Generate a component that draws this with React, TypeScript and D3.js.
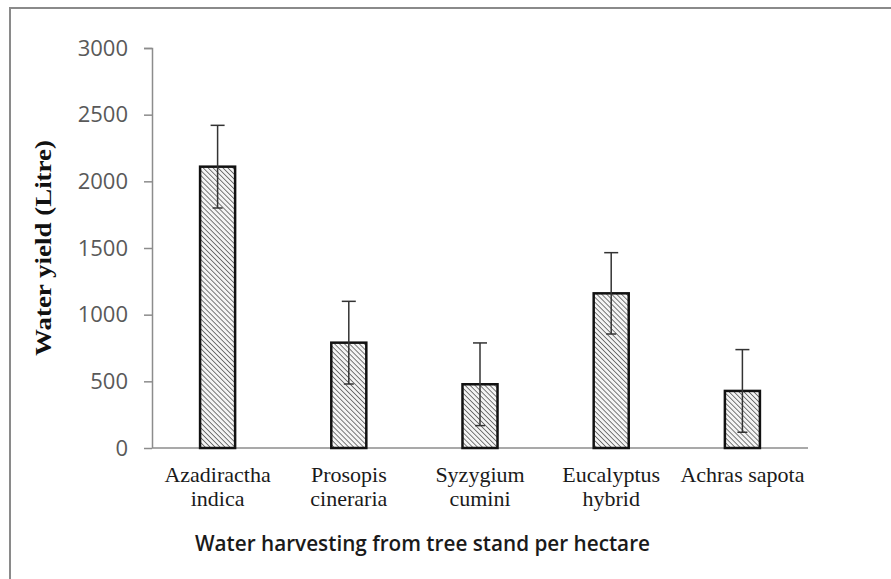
import * as d3 from 'd3';
import { useEffect, useRef } from 'react';

const species = ['Azadiractha indica', 'Prosopis cineraria', 'Syzygium cumini', 'Eucalyptus hybrid', 'Achras sapota'];
const speciesLines = [['Azadiractha', 'indica'], ['Prosopis', 'cineraria'], ['Syzygium', 'cumini'], ['Eucalyptus', 'hybrid'], ['Achras sapota']];
const waterYield = [2110, 790, 478, 1160, 428];
const errorRange = [310, 310, 310, 305, 310];
const yTicks = [0, 500, 1000, 1500, 2000, 2500, 3000];

const BarChart = () => {
    const svgRef = useRef<SVGSVGElement>(null);

    useEffect(() => {
        const width = 891;
        const height = 579;

        const svg = d3.select(svgRef.current);
        svg.selectAll('*').remove();
        svg.attr('width', width).attr('height', height);

        svg.append('rect').attr('width', width).attr('height', height).attr('fill', '#fff');

        // outer frame (clipped at right/bottom)
        svg.append('rect')
            .attr('x', 10)
            .attr('y', 8)
            .attr('width', 900)
            .attr('height', 600)
            .attr('fill', 'none')
            .attr('stroke', '#8a8a8a')
            .attr('stroke-width', 2);

        // hatch pattern
        const defs = svg.append('defs');
        const pattern = defs
            .append('pattern')
            .attr('id', 'hatch')
            .attr('patternUnits', 'userSpaceOnUse')
            .attr('width', 3.5)
            .attr('height', 3.5)
            .attr('patternTransform', 'rotate(-45)');
        pattern.append('rect').attr('width', 3.5).attr('height', 3.5).attr('fill', '#f4f4f4');
        pattern.append('line').attr('x1', 0).attr('y1', 0).attr('x2', 0).attr('y2', 3.5).attr('stroke', '#5a5a5a').attr('stroke-width', 1.6);

        const xScale = d3.scaleBand().domain(species).range([152, 808]).paddingInner(0.733).paddingOuter(0.3665);
        const yScale = d3.scaleLinear().domain([0, 3000]).range([448, 48]);

        // y axis
        const yAxis = svg
            .append('g')
            .attr('transform', 'translate(152, 0)')
            .call(d3.axisLeft(yScale).tickValues(yTicks).tickSize(8).tickPadding(16).tickFormat(d3.format('d')));
        yAxis.selectAll('path, line').attr('stroke', '#8c8c8c').attr('stroke-width', 1.5);
        yAxis.select('.domain').attr('d', 'M-8,48.5H0.5V448');
        yAxis.selectAll('text')
            .attr('fill', '#595959')
            .style('font-family', 'Open Sans, sans-serif')
            .style('font-size', '22px');

        // x axis line
        svg.append('line')
            .attr('x1', 152)
            .attr('x2', 808)
            .attr('y1', yScale(0))
            .attr('y2', yScale(0))
            .attr('stroke', '#8c8c8c')
            .attr('stroke-width', 1.5);

        // bars
        svg.append('g')
            .selectAll('rect')
            .data(species)
            .enter()
            .append('rect')
            .attr('x', (d) => xScale(d) as number)
            .attr('y', (d, i) => yScale(waterYield[i]))
            .attr('width', xScale.bandwidth())
            .attr('height', (d, i) => yScale(0) - yScale(waterYield[i]))
            .attr('fill', 'url(#hatch)')
            .attr('stroke', '#111')
            .attr('stroke-width', 2.5);

        // error bars
        const err = svg.append('g').attr('stroke', '#333').attr('stroke-width', 1.5);
        species.forEach((s, i) => {
            const cx = (xScale(s) as number) + xScale.bandwidth() / 2;
            const top = yScale(waterYield[i] + errorRange[i]);
            const bottom = yScale(waterYield[i] - errorRange[i]);
            err.append('line').attr('x1', cx).attr('x2', cx).attr('y1', top).attr('y2', bottom);
            err.append('line').attr('x1', cx - 7).attr('x2', cx + 7).attr('y1', top).attr('y2', top);
            err.append('line').attr('x1', cx - 5).attr('x2', cx + 5).attr('y1', bottom).attr('y2', bottom);
        });

        // x tick labels
        const xLabels = svg.append('g');
        speciesLines.forEach((lines, i) => {
            const cx = (xScale(species[i]) as number) + xScale.bandwidth() / 2;
            lines.forEach((line, j) => {
                xLabels
                    .append('text')
                    .attr('x', cx)
                    .attr('y', 482 + j * 24)
                    .attr('text-anchor', 'middle')
                    .attr('fill', '#1a1a1a')
                    .style('font-family', 'Liberation Serif, Times New Roman, serif')
                    .style('font-size', '22px')
                    .text(line);
            });
        });

        // y axis title
        svg.append('text')
            .attr('transform', 'translate(51, 248) rotate(-90)')
            .attr('text-anchor', 'middle')
            .attr('textLength', 216)
            .attr('lengthAdjust', 'spacingAndGlyphs')
            .attr('fill', '#111')
            .style('font-family', 'Liberation Serif, Times New Roman, serif')
            .style('font-weight', 'bold')
            .style('font-size', '23px')
            .text('Water yield (Litre)');

        // x axis title
        svg.append('text')
            .attr('x', 195)
            .attr('y', 551)
            .attr('textLength', 455)
            .attr('lengthAdjust', 'spacingAndGlyphs')
            .attr('fill', '#1a1a1a')
            .style('font-family', 'Open Sans, sans-serif')
            .style('font-weight', '600')
            .style('font-size', '21px')
            .text('Water harvesting from tree stand per hectare');
    }, []);

    return <svg ref={svgRef} style={{ position: 'absolute', left: 0, top: 0, display: 'block' }} />;
};

export default function App() {
    return <BarChart />;
}
